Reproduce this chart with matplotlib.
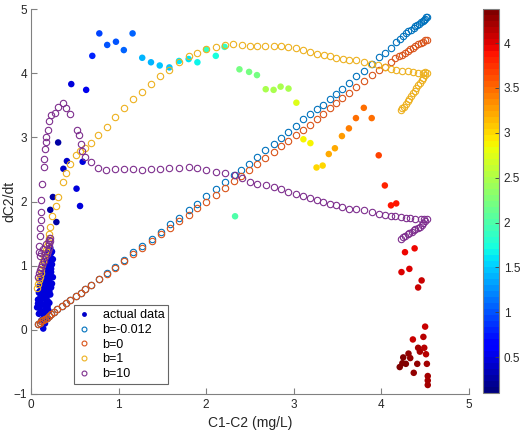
import numpy as np
import matplotlib
matplotlib.use("Agg")
import matplotlib.pyplot as plt
from matplotlib.lines import Line2D

plt.rcParams['font.family'] = ['Liberation Sans', 'DejaVu Sans']

# early measurements, dense blob near C1-C2 ~ 0.1-0.25
blob_x = [0.14, 0.12, 0.18, 0.09, 0.14, 0.20, 0.07, 0.11, 0.16, 0.21, 0.08, 0.13, 0.18, 0.22,
          0.09, 0.14, 0.19, 0.23, 0.10, 0.15, 0.20, 0.12, 0.17, 0.22, 0.14, 0.19, 0.23, 0.16,
          0.21, 0.18, 0.23, 0.20, 0.24, 0.22, 0.16, 0.15, 0.11, 0.17, 0.13, 0.10, 0.19, 0.16,
          0.12, 0.21, 0.17, 0.13, 0.24, 0.18, 0.11, 0.21, 0.15, 0.19, 0.25, 0.17, 0.22, 0.20,
          0.24, 0.21, 0.23, 0.25, 0.08, 0.12, 0.16, 0.19, 0.15, 0.10, 0.14, 0.18, 0.23, 0.20]
blob_y = [0.02, 0.15, 0.18, 0.25, 0.28, 0.30, 0.35, 0.38, 0.40, 0.42, 0.47, 0.50, 0.52, 0.55,
          0.58, 0.61, 0.63, 0.66, 0.69, 0.72, 0.74, 0.79, 0.82, 0.85, 0.89, 0.92, 0.95, 0.99,
          1.02, 1.08, 1.12, 1.17, 1.22, 1.28, 0.10, 0.22, 0.30, 0.33, 0.40, 0.44, 0.45, 0.49,
          0.56, 0.60, 0.58, 0.66, 0.72, 0.70, 0.52, 0.78, 0.80, 0.88, 0.82, 0.95, 0.97, 1.05,
          1.02, 1.13, 1.20, 1.10, 0.41, 0.64, 0.76, 0.36, 0.86, 0.60, 0.53, 0.26, 0.90, 1.24]

# later measurements: x = C1-C2, y = dC2/dt, t = time (colour)
act_x = [0.29, 0.22, 0.25, 0.31, 0.37, 0.41, 0.56, 0.52, 0.59, 0.46, 0.63, 0.70, 0.78, 0.87,
         0.97, 1.06, 1.16, 1.27, 1.37, 1.47, 1.58, 1.69, 1.80, 1.90, 2.00, 2.11, 2.21, 2.33,
         2.38, 2.49, 2.58, 2.68, 2.77, 2.85, 2.94, 3.03, 3.11, 3.19, 3.26, 3.33, 3.40, 3.47,
         3.55, 3.63, 3.71, 3.80, 3.89, 3.97, 4.04, 4.11, 4.17, 4.27, 4.38, 4.23, 4.32, 4.46,
         4.42, 4.50, 4.36, 4.48, 4.42, 4.49, 4.44, 4.51, 4.31, 4.25, 4.33, 4.28, 4.21, 4.24,
         4.41, 4.52, 4.37, 4.53, 4.53, 4.53]
act_y = [1.68, 1.87, 2.07, 2.92, 2.51, 2.63, 1.93, 2.20, 2.62, 3.83, 3.74, 4.27, 4.62, 4.44,
         4.49, 4.36, 4.62, 4.24, 4.17, 4.12, 4.09, 4.19, 4.22, 4.17, 4.37, 4.27, 4.41, 1.77,
         4.06, 4.02, 3.97, 3.75, 3.74, 3.79, 3.76, 3.54, 2.97, 2.91, 2.53, 2.56, 2.74, 2.83,
         3.02, 3.14, 3.30, 3.46, 3.30, 2.72, 2.25, 1.94, 1.97, 1.21, 1.27, 0.90, 0.95, 0.77,
         0.66, 0.05, -0.15, -0.11, -0.28, -0.28, -0.34, -0.38, -0.37, -0.43, -0.44, -0.53, -0.58, -0.52,
         -0.53, -0.53, -0.67, -0.72, -0.79, -0.86]
act_t = [0.25, 0.25, 0.25, 0.30, 0.40, 0.40, 0.50, 0.50, 0.50, 0.50, 0.55, 0.80, 0.95, 1.00,
         1.00, 1.05, 1.10, 1.40, 1.40, 1.45, 1.45, 1.60, 1.60, 1.65, 1.90, 1.75, 1.90, 2.00,
         2.20, 2.20, 2.20, 2.50, 2.50, 2.50, 2.50, 2.75, 2.85, 2.85, 3.00, 3.00, 3.20, 3.20,
         3.30, 3.40, 3.45, 3.45, 3.45, 3.65, 3.80, 3.85, 3.85, 3.95, 3.95, 4.00, 4.00, 4.05,
         4.05, 4.08, 4.10, 4.12, 4.20, 4.15, 4.20, 4.15, 4.30, 4.35, 4.30, 4.35, 4.38, 4.38,
         4.25, 4.18, 4.30, 4.20, 4.20, 4.20]
blob_t = 0.45

# model b = -0.012
b1_x = [0.08, 0.10, 0.12, 0.14, 0.16, 0.18, 0.20, 0.23, 0.26, 0.30, 0.35, 0.40, 0.45, 0.51,
        0.57, 0.62, 0.69, 0.78, 0.87, 0.96, 1.06, 1.17, 1.27, 1.38, 1.48, 1.59, 1.69, 1.80,
        1.90, 2.00, 2.11, 2.21, 2.32, 2.40, 2.49, 2.58, 2.67, 2.77, 2.86, 2.94, 3.03, 3.11,
        3.19, 3.26, 3.33, 3.41, 3.48, 3.55, 3.63, 3.71, 3.80, 3.89, 3.97, 4.04, 4.11, 4.17,
        4.21, 4.25, 4.28, 4.31, 4.34, 4.37, 4.39, 4.41, 4.43, 4.45, 4.47, 4.49, 4.50, 4.51, 4.52]
b1_y = [0.09, 0.11, 0.13, 0.15, 0.17, 0.19, 0.21, 0.24, 0.28, 0.33, 0.37, 0.42, 0.47, 0.53,
        0.58, 0.63, 0.70, 0.79, 0.88, 0.98, 1.09, 1.21, 1.31, 1.42, 1.53, 1.65, 1.75, 1.86,
        1.96, 2.08, 2.19, 2.31, 2.41, 2.49, 2.59, 2.70, 2.80, 2.89, 2.99, 3.09, 3.18, 3.28,
        3.36, 3.44, 3.51, 3.59, 3.67, 3.76, 3.84, 3.95, 4.04, 4.14, 4.25, 4.32, 4.39, 4.48,
        4.54, 4.58, 4.62, 4.65, 4.68, 4.71, 4.73, 4.75, 4.77, 4.79, 4.81, 4.83, 4.85, 4.87, 4.88]

# model b = 0
b0_x = [0.08, 0.10, 0.12, 0.14, 0.16, 0.18, 0.20, 0.23, 0.26, 0.30, 0.35, 0.40, 0.45, 0.51,
        0.57, 0.62, 0.69, 0.78, 0.87, 0.96, 1.06, 1.17, 1.27, 1.38, 1.48, 1.59, 1.69, 1.80,
        1.90, 2.00, 2.11, 2.21, 2.32, 2.40, 2.49, 2.58, 2.67, 2.77, 2.86, 2.94, 3.03, 3.11,
        3.19, 3.26, 3.33, 3.41, 3.48, 3.55, 3.63, 3.71, 3.80, 3.89, 3.97, 4.04, 4.11, 4.16,
        4.20, 4.24, 4.27, 4.30, 4.33, 4.36, 4.39, 4.42, 4.45, 4.47, 4.50, 4.52]
b0_y = [0.09, 0.11, 0.13, 0.15, 0.17, 0.19, 0.21, 0.24, 0.28, 0.33, 0.37, 0.42, 0.47, 0.53,
        0.58, 0.63, 0.70, 0.79, 0.87, 0.97, 1.07, 1.18, 1.28, 1.38, 1.49, 1.59, 1.69, 1.79,
        1.90, 2.00, 2.10, 2.21, 2.32, 2.40, 2.49, 2.58, 2.68, 2.77, 2.86, 2.94, 3.03, 3.12,
        3.20, 3.28, 3.36, 3.45, 3.53, 3.61, 3.69, 3.78, 3.88, 3.97, 4.05, 4.10, 4.17, 4.23,
        4.26, 4.29, 4.32, 4.35, 4.37, 4.40, 4.43, 4.45, 4.47, 4.49, 4.51, 4.52]

# model b = 1
bb1_x = [0.07, 0.08, 0.09, 0.10, 0.11, 0.12, 0.13, 0.14, 0.15, 0.16, 0.17, 0.18, 0.19, 0.20,
         0.21, 0.22, 0.24, 0.28, 0.31, 0.36, 0.40, 0.44, 0.51, 0.56, 0.62, 0.69, 0.77, 0.87,
         0.96, 1.06, 1.16, 1.27, 1.37, 1.47, 1.58, 1.69, 1.80, 1.90, 2.00, 2.11, 2.21, 2.31,
         2.41, 2.50, 2.58, 2.67, 2.77, 2.86, 2.94, 3.03, 3.11, 3.19, 3.26, 3.34, 3.41, 3.48,
         3.56, 3.63, 3.71, 3.80, 3.88, 3.96, 4.04, 4.11, 4.17, 4.24, 4.30, 4.36, 4.42, 4.47,
         4.50, 4.52, 4.50, 4.48, 4.46, 4.44, 4.42, 4.40, 4.38, 4.36, 4.34, 4.32, 4.30, 4.28,
         4.26, 4.24, 4.22]
bb1_y = [0.65, 0.71, 0.77, 0.83, 0.89, 0.95, 1.01, 1.07, 1.13, 1.19, 1.25, 1.31, 1.37, 1.43,
         1.50, 1.60, 1.77, 1.93, 2.07, 2.30, 2.45, 2.58, 2.72, 2.78, 2.83, 2.91, 3.03, 3.16,
         3.32, 3.46, 3.59, 3.71, 3.83, 3.95, 4.05, 4.17, 4.27, 4.32, 4.37, 4.41, 4.44, 4.45,
         4.44, 4.43, 4.43, 4.43, 4.43, 4.42, 4.41, 4.39, 4.36, 4.33, 4.30, 4.28, 4.26, 4.24,
         4.22, 4.21, 4.20, 4.18, 4.15, 4.12, 4.09, 4.07, 4.05, 4.04, 4.03, 4.02, 4.01, 4.01,
         4.02, 4.01, 3.97, 3.93, 3.89, 3.85, 3.81, 3.77, 3.73, 3.69, 3.64, 3.60, 3.56, 3.52,
         3.48, 3.45, 3.42]

# model b = 10
b10_x = [0.08, 0.09, 0.10, 0.12, 0.13, 0.15, 0.16, 0.18, 0.19, 0.20, 0.21, 0.22, 0.22, 0.20,
         0.17, 0.14, 0.12, 0.10, 0.09, 0.09, 0.10, 0.10, 0.11, 0.11, 0.12, 0.13, 0.15, 0.15,
         0.16, 0.17, 0.17, 0.19, 0.21, 0.23, 0.27, 0.31, 0.36, 0.40, 0.45, 0.52, 0.55, 0.57,
         0.58, 0.62, 0.69, 0.77, 0.86, 0.96, 1.06, 1.16, 1.27, 1.37, 1.47, 1.58, 1.69, 1.80,
         1.90, 2.00, 2.11, 2.22, 2.33, 2.41, 2.50, 2.58, 2.68, 2.77, 2.86, 2.94, 3.03, 3.11,
         3.19, 3.26, 3.33, 3.41, 3.48, 3.55, 3.63, 3.71, 3.80, 3.89, 3.97, 4.04, 4.11, 4.16,
         4.22, 4.28, 4.33, 4.39, 4.45, 4.49, 4.52, 4.50, 4.48, 4.46, 4.44, 4.42, 4.39, 4.37,
         4.35, 4.32, 4.30, 4.27, 4.25, 4.22]
b10_y = [0.82, 0.88, 0.93, 0.98, 1.03, 1.08, 1.13, 1.18, 1.23, 1.28, 1.33, 1.38, 1.43, 1.40,
         1.33, 1.26, 1.20, 1.15, 1.22, 1.30, 1.47, 1.59, 1.71, 1.84, 2.03, 2.28, 2.54, 2.67,
         2.82, 2.92, 3.01, 3.12, 3.26, 3.35, 3.38, 3.48, 3.53, 3.45, 3.36, 3.12, 3.03, 2.90,
         2.78, 2.70, 2.61, 2.53, 2.49, 2.50, 2.51, 2.51, 2.49, 2.50, 2.51, 2.52, 2.53, 2.54,
         2.52, 2.49, 2.46, 2.44, 2.41, 2.36, 2.31, 2.28, 2.25, 2.22, 2.19, 2.15, 2.12, 2.09,
         2.05, 2.02, 1.99, 1.96, 1.94, 1.91, 1.89, 1.88, 1.86, 1.84, 1.81, 1.79, 1.78, 1.77,
         1.76, 1.75, 1.74, 1.73, 1.73, 1.72, 1.72, 1.69, 1.66, 1.63, 1.61, 1.59, 1.57, 1.55,
         1.53, 1.51, 1.49, 1.47, 1.45, 1.42]

series_labels = ['b=-0.012', 'b=0', 'b=1', 'b=10']
series_colors = ['#0072BD', '#D95319', '#EDB120', '#7E2F8E']

fig = plt.figure(figsize=(5.27, 4.42), dpi=100)
ax = fig.add_axes([0.0588, 0.1086, 0.831, 0.871])
cax = fig.add_axes([0.9165, 0.1109, 0.0304, 0.8688])

cmap = plt.get_cmap('jet', 64)
all_x = blob_x + act_x
all_y = blob_y + act_y
all_t = [blob_t] * len(blob_x) + act_t
sc = ax.scatter(all_x, all_y, c=all_t, cmap=cmap, vmin=0.1, vmax=4.38, s=22,
                edgecolors='none', zorder=2)

for xs, ys, col in zip([b1_x, b0_x, bb1_x, b10_x], [b1_y, b0_y, bb1_y, b10_y], series_colors):
    ax.plot(xs, ys, 'o', mfc='none', mec=col, ms=4.6, mew=0.8, zorder=3)

ax.set_xlim(0, 5)
ax.set_ylim(-1, 5)
ax.set_xticks([0, 1, 2, 3, 4, 5])
ax.set_yticks([-1, 0, 1, 2, 3, 4, 5])
ax.set_xlabel('C1-C2 (mg/L)', fontsize=10, color='#262626')
ax.set_ylabel('dC2/dt', fontsize=10, color='#262626')
ax.yaxis.set_label_coords(-0.034, 0.5)
for s in ['top', 'right']:
    ax.spines[s].set_visible(False)
for s in ['left', 'bottom']:
    ax.spines[s].set_color('#808080')
    ax.spines[s].set_linewidth(0.8)
ax.tick_params(direction='in', length=4, width=0.8, color='#808080',
               labelsize=8.5, labelcolor='#262626')
ax.tick_params(axis='y', pad=3)

# legend with proxy markers
handles = [Line2D([], [], ls='none', marker='o', ms=3.5, mfc='#0000C8', mec='none')]
for col in series_colors:
    handles.append(Line2D([], [], ls='none', marker='o', ms=3.5, mfc='none', mec=col, mew=0.8))
leg = ax.legend(handles, ['actual data'] + series_labels, loc='lower left',
                bbox_to_anchor=(0.098, 0.026), fontsize=9, frameon=True, fancybox=False,
                handlelength=1.0, handletextpad=1.0, borderpad=0.3, labelspacing=0.22,
                borderaxespad=0)
leg.get_frame().set_edgecolor('#404040')
leg.get_frame().set_linewidth(0.8)

cb = fig.colorbar(sc, cax=cax)
cb.set_ticks([0.5, 1, 1.5, 2, 2.5, 3, 3.5, 4])
cb.set_ticklabels(['0.5', '1', '1.5', '2', '2.5', '3', '3.5', '4'])
cb.ax.tick_params(direction='in', length=3, width=0.6, color='#404040',
                  labelsize=8.5, labelcolor='#262626')
cb.outline.set_edgecolor('#808080')
cb.outline.set_linewidth(0.8)

fig.savefig('out.png', dpi=100)
